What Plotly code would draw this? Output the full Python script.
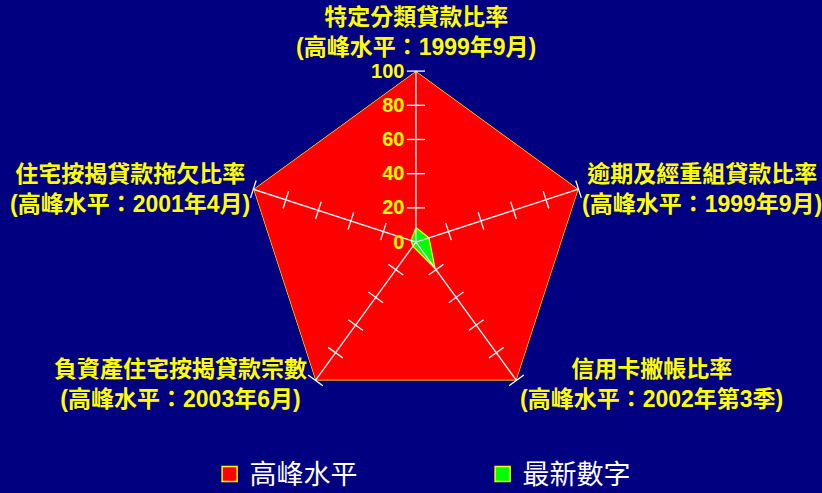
import plotly.graph_objects as go

categories = ['特定分類貸款比率', '逾期及經重組貸款比率', '信用卡撇帳比率',
              '負資產住宅按揭貸款宗數', '住宅按揭貸款拖欠比率']
peak_dates = ['1999年9月', '1999年9月', '2002年第3季', '2003年6月', '2001年4月']
peak_values = [100, 100, 100, 100, 100]
latest_values = [8.5, 8, 19, 3, 3]
tick_values = [0, 20, 40, 60, 80, 100]

BG = '#000080'
YELLOW = '#FFFF00'
FONT = 'Liberation Sans, Noto Sans CJK TC'

theta_closed = categories + categories[:1]

fig = go.Figure()
fig.add_trace(go.Scatterpolar(
    r=peak_values + peak_values[:1], theta=theta_closed,
    mode='lines', fill='toself', fillcolor='#FF0000',
    line=dict(color=YELLOW, width=1.2), showlegend=False, hoverinfo='skip'
))
fig.add_trace(go.Scatterpolar(
    r=latest_values + latest_values[:1], theta=theta_closed,
    mode='lines', fill='toself', fillcolor='#00FF00',
    line=dict(color=YELLOW, width=1.2), showlegend=False
))

# spokes drawn over the fills
sr, st = [], []
for cat, v in zip(categories, peak_values):
    sr += [0, v, None]
    st += [cat, cat, cat]
fig.add_trace(go.Scatterpolar(
    r=sr, theta=st, mode='lines', showlegend=False, hoverinfo='skip',
    line=dict(color='white', width=1.3)
))

# tick marks across every spoke
spoke_angles = [90, 18, -54, -126, -198]
tr, tt, ta = [], [], []
for cat, ang in zip(categories, spoke_angles):
    for v in tick_values[1:]:
        tr.append(v)
        tt.append(cat)
        ta.append(90 - ang)
fig.add_trace(go.Scatterpolar(
    r=tr, theta=tt, mode='markers', showlegend=False, hoverinfo='skip',
    marker=dict(symbol='line-ew', size=13, angle=ta,
                line=dict(color='white', width=1.3))
))

# legend entries
for name, col in [('高峰水平', '#FF0000'), ('最新數字', '#00FF00')]:
    fig.add_trace(go.Scatterpolar(
        r=[None], theta=[categories[0]], mode='markers', name=name,
        marker=dict(symbol='square', size=15, color=col,
                    line=dict(color=YELLOW, width=1.5))
    ))

# axis labels
label_pos = [(416, 32), (702, 189), (651, 384), (180, 384), (130, 189)]
for cat, date, (px_, py_) in zip(categories, peak_dates, label_pos):
    fig.add_annotation(
        x=px_ / 822, y=1 - py_ / 493, xref='paper', yref='paper',
        xanchor='center', yanchor='middle',
        text=f'{cat}<br>(高峰水平：{date})', showarrow=False, align='center',
        font=dict(family=FONT, size=23, color=YELLOW, weight='bold')
    )

fig.update_layout(
    width=822, height=493,
    paper_bgcolor=BG, plot_bgcolor=BG,
    margin=dict(l=0, r=0, t=0, b=0, autoexpand=False),
    polar=dict(
        bgcolor=BG,
        domain=dict(x=[0.298, 0.714], y=[0.162, 0.856]),
        gridshape='linear',
        radialaxis=dict(
            range=[0, 100], angle=90, tickvals=tick_values,
            side='counterclockwise', tickangle=90, ticklen=4, ticks='outside',
            tickcolor='rgba(0,0,0,0)',
            showticklabels=True, layer='above traces',
            tickfont=dict(family=FONT, size=20, color=YELLOW, weight='bold'),
            showgrid=False, showline=False
        ),
        angularaxis=dict(
            rotation=90, direction='clockwise', showticklabels=False,
            ticks='', showline=False, showgrid=False
        )
    ),
    legend=dict(
        orientation='h', x=0.255, y=-0.012, yanchor='bottom', xanchor='left',
        entrywidth=228, bgcolor='rgba(0,0,0,0)',
        font=dict(family=FONT, size=27, color='white')
    ),
    showlegend=True
)

fig.write_html('out.html', config={'displayModeBar': False},
               post_script="document.body.style.margin='0';")
